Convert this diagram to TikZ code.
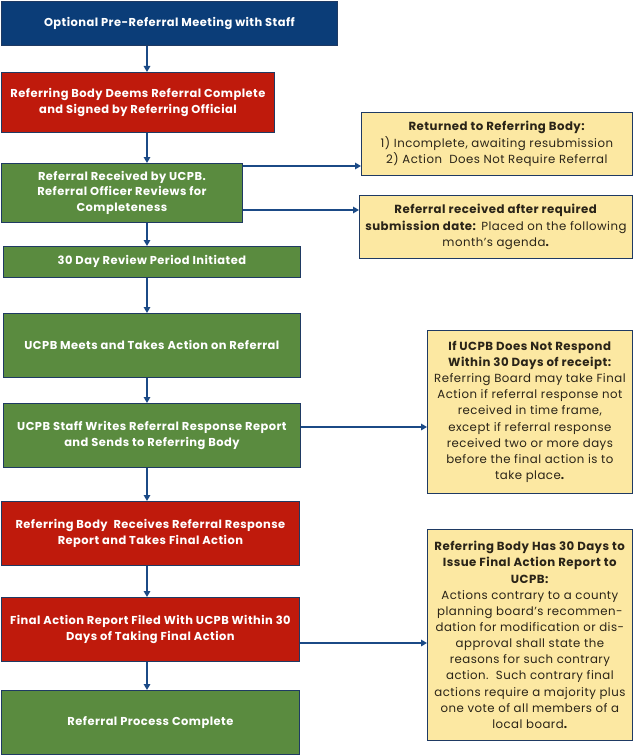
\documentclass[tikz,border=0pt]{standalone}
\usepackage{fontspec}
\setmainfont{Poppins}[LetterSpace=4]
\usetikzlibrary{arrows.meta,calc}
\definecolor{navy}{HTML}{0B3D78}
\definecolor{brick}{HTML}{BF1A0C}
\definecolor{leaf}{HTML}{5A8B3F}
\definecolor{sand}{HTML}{FCE8A2}
\definecolor{edgec}{HTML}{1F3A63}
\definecolor{arrowc}{HTML}{1B4A86}
\definecolor{txt}{HTML}{2A2418}
\begin{document}
\begin{tikzpicture}[x=1bp,y=-1bp,
  mainbox/.style={draw=edgec, line width=0.8bp, text=white, font=\bfseries\fontsize{11.5}{16}\selectfont, align=center, inner sep=0pt, anchor=north west},
  sidebox/.style={draw=edgec, line width=0.8bp, fill=sand, text=txt, font=\fontsize{11.8}{16.2}\selectfont, align=center, inner sep=0pt, anchor=north west},
  arr/.style={draw=arrowc, line width=1.8bp, -{Triangle[length=6bp,width=6.5bp]}}]
\fill[white] (0,0) rectangle (633,755);
\useasboundingbox (0,0) rectangle (633,755);

\node[mainbox, fill=navy, minimum width=336bp, minimum height=44bp] (b1) at (1,1) {Optional Pre-Referral Meeting with Staff};
\node[mainbox, fill=brick, minimum width=273bp, minimum height=60bp] (b2) at (1,72) {Referring Body Deems Referral Complete\\and Signed by Referring Official};
\node[mainbox, fill=leaf, minimum width=241bp, minimum height=59bp] (b3) at (1,163) {Referral Received by UCPB.\\Referral Officer Reviews for\\Completeness};
\node[mainbox, fill=leaf, minimum width=297bp, minimum height=31bp] (b4) at (3,246) {30 Day Review Period Initiated};
\node[mainbox, fill=leaf, minimum width=297bp, minimum height=64bp] (b5) at (3,313) {UCPB Meets and Takes Action on Referral};
\node[mainbox, fill=leaf, minimum width=297bp, minimum height=64bp] (b6) at (3,403) {UCPB Staff Writes Referral Response Report\\and Sends to Referring Body};
\node[mainbox, fill=brick, minimum width=298bp, minimum height=64bp] (b7) at (1,501) {Referring Body\ \ Receives Referral Response\\Report and Takes Final Action};
\node[mainbox, fill=brick, minimum width=298bp, minimum height=64bp] (b8) at (1,597) {Final Action Report Filed With UCPB Within 30\\Days of Taking Final Action};
\node[mainbox, fill=leaf, minimum width=298bp, minimum height=64bp] (b9) at (1,690) {Referral Process Complete};

\node[sidebox, minimum width=271bp, minimum height=63bp] (sA) at (361,112) {\textbf{Returned to Referring Body:}\\1) Incomplete, awaiting resubmission\\2) Action\ \ Does Not Require Referral};
\node[sidebox, minimum width=273bp, minimum height=63bp] (sB) at (359,195) {\textbf{Referral received after required}\\\textbf{submission date:} Placed on the following\\month’s agenda\textbf{.}};
\node[sidebox, minimum width=205bp, minimum height=163bp] (sC) at (427,330) {\textbf{If UCPB Does Not Respond}\\\textbf{Within 30 Days of receipt:}\\Referring Board may take Final\\Action if referral response not\\received in time frame,\\except if referral response\\received two or more days\\before the final action is to\\take place\textbf{.}};
\node[sidebox, minimum width=205bp, minimum height=211bp] (sD) at (427,529) {\textbf{Referring Body Has 30 Days to}\\\textbf{Issue Final Action Report to}\\\textbf{UCPB:}\\Actions contrary to a county\\planning board’s recommen-\\dation for modification or dis-\\approval shall state the\\reasons for such contrary\\action.\ \ Such contrary final\\actions require a majority plus\\one vote of all members of a\\local board\textbf{.}};

\coordinate (ax) at (147,0);
\foreach \a/\b in {b1/b2,b2/b3,b3/b4,b4/b5,b5/b6,b6/b7,b7/b8,b8/b9}
  \draw[arr] (\a.south -| ax) -- (\b.north -| ax);

\coordinate (ya) at (0,166);
\coordinate (yb) at (0,210);
\coordinate (yc) at (0,427);
\coordinate (yd) at (0,643);
\draw[arr] (b3.east |- ya) -- (sA.west |- ya);
\draw[arr] (b3.east |- yb) -- (sB.west |- yb);
\draw[arr] (b6.east |- yc) -- (sC.west |- yc);
\draw[arr] (b8.east |- yd) -- (sD.west |- yd);
\end{tikzpicture}
\end{document}
